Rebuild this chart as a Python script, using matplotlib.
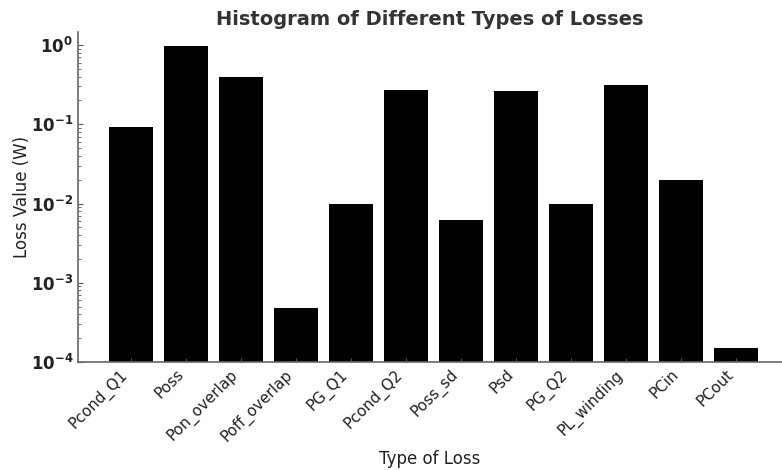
import matplotlib.pyplot as plt

loss_types = ["Pcond_Q1", "Poss", "Pon_overlap", "Poff_overlap", "PG_Q1", "Pcond_Q2",
              "Poss_sd", "Psd", "PG_Q2", "PL_winding", "PCin", "PCout"]
loss_values = [0.092, 0.97, 0.39, 0.00048, 0.01, 0.27,
               0.0062, 0.26, 0.01, 0.31, 0.02, 0.00015]

fig = plt.figure(figsize=(7.82, 4.70), dpi=100)
ax = fig.add_axes([78 / 782, 1 - 362 / 470, 1 - 78 / 782, (362 - 32) / 470])

ax.bar(range(len(loss_types)), loss_values, width=0.8, color="black")
ax.set_yscale("log")
ax.set_ylim(1e-4, 1.46)
ax.set_xlim(-0.97, 11.83)

ax.set_xticks(range(len(loss_types)))
ax.set_xticklabels(loss_types, rotation=45, ha="right", fontsize=11, color="#222222")
for lbl in ax.get_yticklabels():
    lbl.set_fontweight("bold")
ax.tick_params(axis="y", which="major", labelsize=12, labelcolor="#222222")
ax.tick_params(which="both", direction="in", color="#555555")
ax.tick_params(axis="x", length=3)

for side in ["top", "right"]:
    ax.spines[side].set_visible(False)
for side in ["left", "bottom"]:
    ax.spines[side].set_color("#666666")
    ax.spines[side].set_linewidth(1.2)

ax.set_title("Histogram of Different Types of Losses", fontsize=14, fontweight="bold",
             color="#333333", pad=5)
ax.set_xlabel("Type of Loss", fontsize=12, color="#222222", labelpad=4)
ax.set_ylabel("Loss Value (W)", fontsize=12, color="#222222", labelpad=0)

fig.savefig("out.png", dpi=100)
